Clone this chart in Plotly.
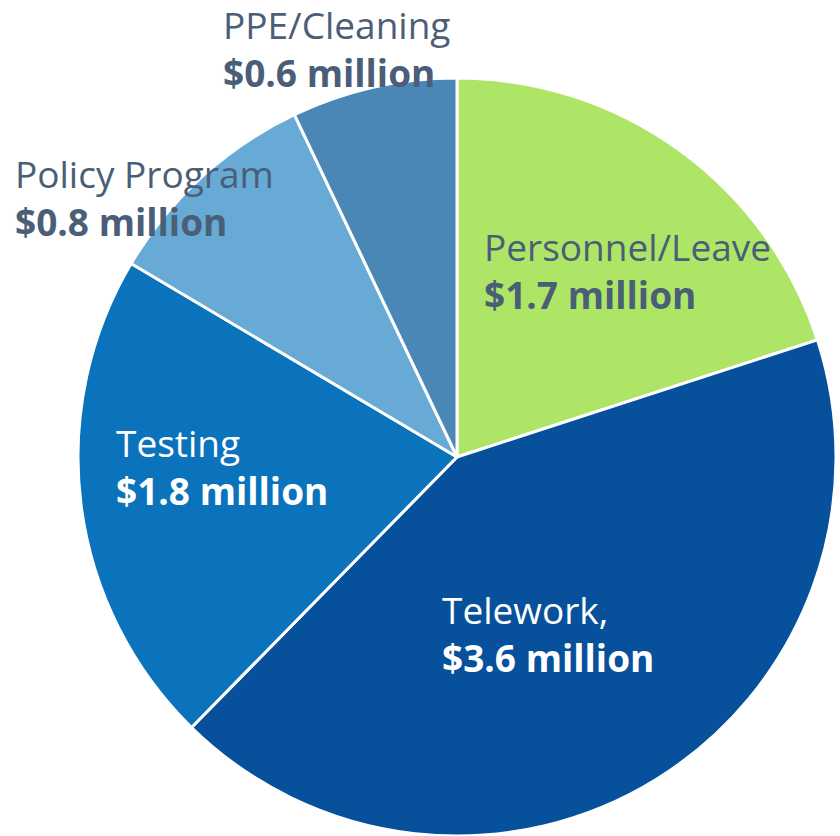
import plotly.graph_objects as go

categories = ["Personnel/Leave", "Telework", "Testing", "Policy Program", "PPE/Cleaning"]
name_lines = ["Personnel/Leave", "Telework,", "Testing", "Policy Program", "PPE/Cleaning"]
values = [1.7, 3.6, 1.8, 0.8, 0.6]
value_labels = ["$1.7 million", "$3.6 million", "$1.8 million", "$0.8 million", "$0.6 million"]
colors = ["#aee567", "#07509b", "#0b73bc", "#67aad5", "#4b87b6"]
text_colors = ["#4a5e78", "#ffffff", "#ffffff", "#4a5e78", "#4a5e78"]

# label anchor positions (pixels: left x, name baseline, value baseline)
label_pos = [(482, 262, 306), (440, 625, 668), (114, 457, 503), (13, 189, 232), (221, 40, 83)]

W, H = 840, 836
fig = go.Figure(go.Pie(
    labels=categories, values=values, sort=False, direction="clockwise", rotation=0,
    marker=dict(colors=colors, line=dict(color="#ffffff", width=3)),
    textinfo="none", hoverinfo="label+value",
    domain=dict(x=[77 / W, 837 / W], y=[0, 758 / H]),
    showlegend=False,
))

FS = 37
off = 11.5 * FS / 32
ann = []
for i, (x, yb1, yb2) in enumerate(label_pos):
    yc = (yb1 + yb2) / 2 - off
    ann.append(dict(
        x=x / W, y=1 - yc / H, xref="paper", yref="paper",
        xanchor="left", yanchor="middle", align="left", showarrow=False,
        text=f"{name_lines[i]}<br><b>{value_labels[i]}</b>",
        font=dict(family="Open Sans", size=FS, color=text_colors[i]),
    ))

fig.update_layout(
    width=W, height=H, margin=dict(l=0, r=0, t=0, b=0),
    paper_bgcolor="white", plot_bgcolor="white", annotations=ann,
)
fig.write_html("out.html", config={"displayModeBar": False},
               post_script="document.body.style.margin='0';")
